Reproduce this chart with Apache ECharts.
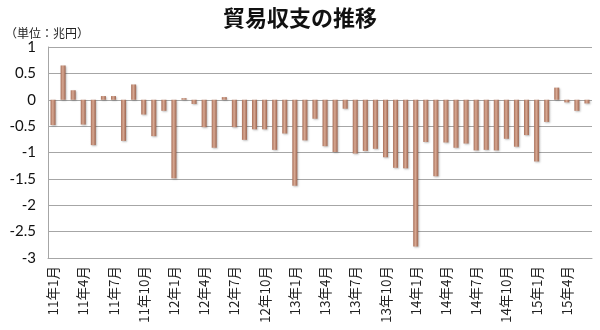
<!DOCTYPE html>
<html>
<head>
<meta charset="utf-8">
<script src="https://cdn.jsdelivr.net/npm/echarts@6/dist/echarts.min.js"></script>
<style>
  html, body { margin: 0; padding: 0; background: #fff; }
  #chart { width: 600px; height: 330px; }
</style>
</head>
<body>
<div id="chart"></div>
<script>
// Monthly trade balance, 2011/1 – 2015/6 (trillion yen)
const years = ['11', '12', '13', '14', '15'];
const monthsPerYear = [12, 12, 12, 12, 6];

const balance2011 = [-0.48, 0.65, 0.18, -0.47, -0.86, 0.07, 0.07, -0.78, 0.29, -0.28, -0.69, -0.21];
const balance2012 = [-1.49, 0.03, -0.08, -0.52, -0.91, 0.05, -0.52, -0.76, -0.56, -0.56, -0.95, -0.64];
const balance2013 = [-1.63, -0.77, -0.36, -0.88, -0.99, -0.17, -1.02, -0.97, -0.93, -1.09, -1.29, -1.30];
const balance2014 = [-2.78, -0.80, -1.45, -0.81, -0.91, -0.83, -0.96, -0.95, -0.96, -0.74, -0.89, -0.67];
const balance2015 = [-1.17, -0.42, 0.23, -0.05, -0.21, -0.07];

const yTicks = { min: -3, max: 1, step: 0.5 };

const categories = [];
years.forEach((y, i) => {
  for (let m = 1; m <= monthsPerYear[i]; m++) categories.push(y + '年' + m + '月');
});
const values = [].concat(balance2011, balance2012, balance2013, balance2014, balance2015);

const chart = echarts.init(document.getElementById('chart'), null, { renderer: 'canvas' });
const gridColor = '#a6a6a6';
chart.setOption({
  animation: false,
  backgroundColor: '#ffffff',
  title: [
    {
      text: '貿易収支の推移',
      left: 'center',
      top: 2,
      textStyle: {
        fontFamily: '"Noto Sans CJK JP"',
        fontSize: 22,
        fontWeight: 'bold',
        color: '#111'
      }
    },
    {
      text: '（単位：兆円）',
      left: 0,
      top: 22,
      textStyle: {
        fontFamily: '"Noto Sans CJK JP"',
        fontSize: 12,
        fontWeight: 'normal',
        color: '#222'
      }
    }
  ],
  grid: { left: 48, right: 8, top: 47, bottom: 72, containLabel: false },
  xAxis: {
    type: 'category',
    data: categories,
    boundaryGap: true,
    axisLine: { onZero: false, lineStyle: { color: gridColor, width: 1 } },
    axisTick: { show: false },
    axisLabel: {
      interval: 2,
      rotate: 90,
      margin: 8,
      fontFamily: '"Noto Sans CJK JP"',
      fontSize: 13.5,
      color: '#222'
    },
    splitLine: { show: false }
  },
  yAxis: {
    type: 'value',
    min: yTicks.min,
    max: yTicks.max,
    interval: yTicks.step,
    axisLine: { show: true, lineStyle: { color: gridColor, width: 1 } },
    axisTick: { show: false },
    axisLabel: {
      margin: 12,
      fontFamily: 'Lato',
      fontSize: 15,
      color: '#111'
    },
    splitLine: { lineStyle: { color: gridColor, width: 1 } }
  },
  series: [{
    type: 'bar',
    data: values,
    barWidth: 5,
    itemStyle: {
      color: new echarts.graphic.LinearGradient(0, 0, 1, 0, [
        { offset: 0, color: '#a8705a' },
        { offset: 0.45, color: '#d8a892' },
        { offset: 1, color: '#9c6550' }
      ]),
      shadowColor: 'rgba(0,0,0,0.25)',
      shadowBlur: 2,
      shadowOffsetX: 1,
      shadowOffsetY: 1
    }
  }]
});
</script>
</body>
</html>
